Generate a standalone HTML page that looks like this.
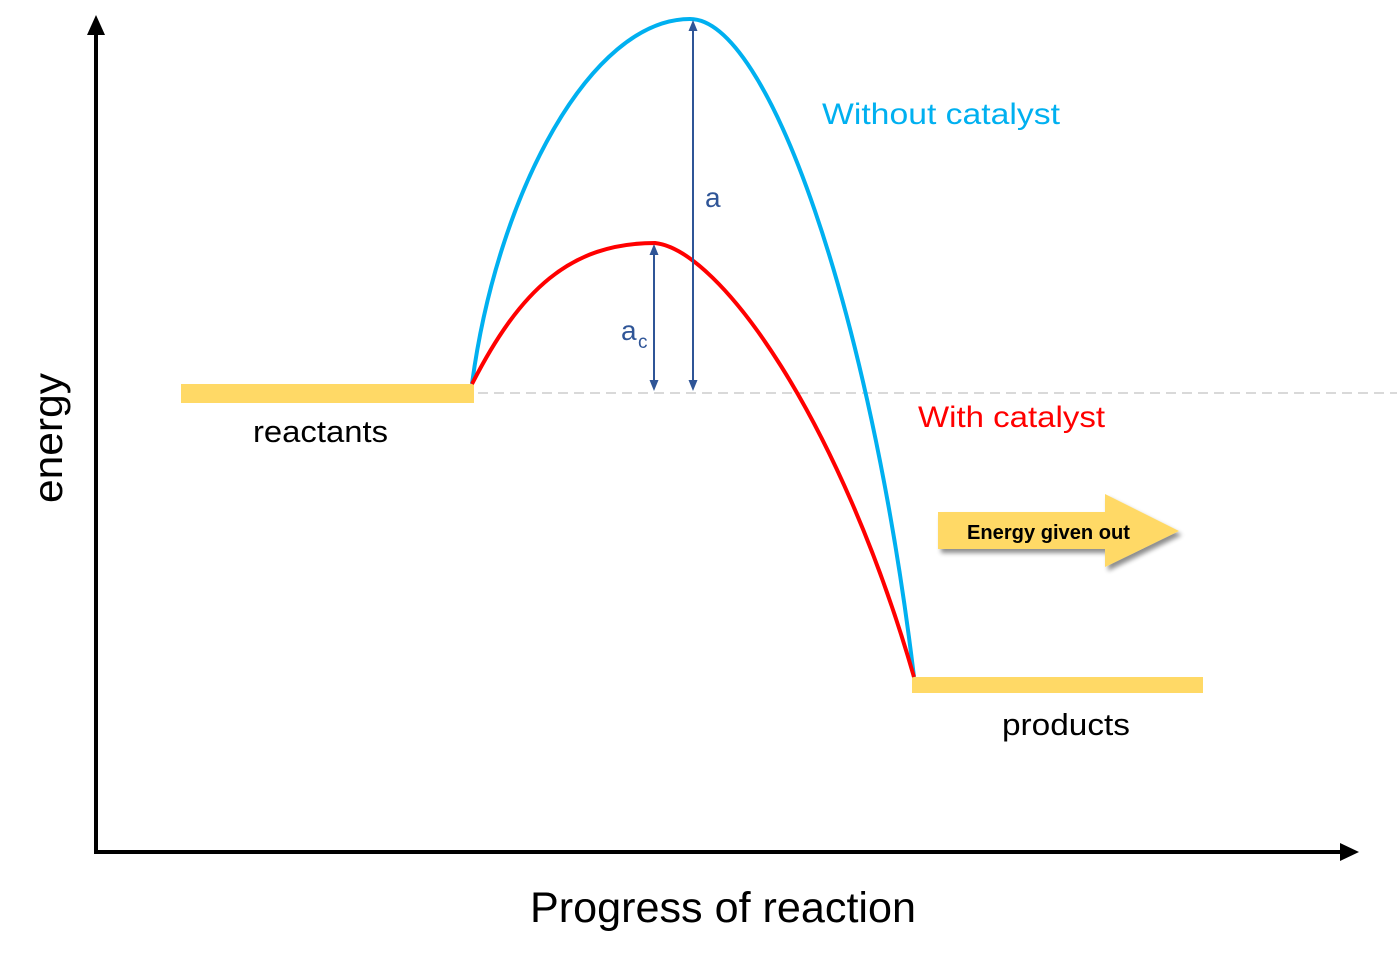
<!DOCTYPE html>
<html>
<head>
<meta charset="utf-8">
<style>
html,body{margin:0;padding:0;background:#fff;}
svg{display:block;}
text{font-family:"Liberation Sans",sans-serif;}
</style>
</head>
<body>
<svg width="1397" height="956" viewBox="0 0 1397 956" xmlns="http://www.w3.org/2000/svg">
<defs>
<filter id="sh" x="-10%" y="-20%" width="130%" height="150%">
<feGaussianBlur in="SourceAlpha" stdDeviation="2.5"/>
<feOffset dx="3" dy="4" result="b"/>
<feComponentTransfer><feFuncA type="linear" slope="0.45"/></feComponentTransfer>
<feMerge><feMergeNode/><feMergeNode in="SourceGraphic"/></feMerge>
</filter>
</defs>
<rect width="1397" height="956" fill="#fff"/>

<!-- axes -->
<line x1="96" y1="32" x2="96" y2="854" stroke="#000" stroke-width="4"/>
<polygon points="96,15 87,35 105,35" fill="#000"/>
<line x1="94" y1="852" x2="1342" y2="852" stroke="#000" stroke-width="4"/>
<polygon points="1359,852 1340,843 1340,861" fill="#000"/>

<!-- dashed reference line -->
<line x1="478" y1="393" x2="1397" y2="393" stroke="#D9D9D9" stroke-width="2" stroke-dasharray="10,6"/>

<!-- bars -->
<rect x="181" y="384" width="293" height="19" fill="#FFD966"/>
<rect x="912" y="677" width="291" height="16" fill="#FFD966"/>

<!-- curves -->
<path d="M472,384 C497,195 590,19 690,19 C768,19 870,310 914,677" fill="none" stroke="#00B0F0" stroke-width="4"/>
<path d="M472,384 C520,290 570,243 655,243 C720,250 840,420 914,677" fill="none" stroke="#FF0000" stroke-width="4"/>

<!-- measure arrows -->
<line x1="693" y1="28" x2="693" y2="382" stroke="#2F5597" stroke-width="2"/>
<polygon points="693,20 688.5,31 697.5,31" fill="#2F5597"/>
<polygon points="693,391 688.5,380 697.5,380" fill="#2F5597"/>
<line x1="654" y1="252" x2="654" y2="382" stroke="#2F5597" stroke-width="2"/>
<polygon points="654,244 649.5,255 658.5,255" fill="#2F5597"/>
<polygon points="654,391 649.5,380 658.5,380" fill="#2F5597"/>

<text x="705" y="207" font-size="28" fill="#2F5597">a</text>
<text x="621" y="340" font-size="28" fill="#2F5597">a</text>
<text x="638" y="348" font-size="19" fill="#2F5597">c</text>

<!-- labels -->
<text x="822" y="124" font-size="30" fill="#00B0F0" textLength="238" lengthAdjust="spacingAndGlyphs">Without catalyst</text>
<text x="918" y="427" font-size="30" fill="#FF0000" textLength="187" lengthAdjust="spacingAndGlyphs">With catalyst</text>
<text x="253" y="442" font-size="31" fill="#000" textLength="135" lengthAdjust="spacingAndGlyphs">reactants</text>
<text x="1002" y="735" font-size="31" fill="#000" textLength="128" lengthAdjust="spacingAndGlyphs">products</text>
<text x="530" y="922" font-size="43" fill="#000" textLength="386" lengthAdjust="spacingAndGlyphs">Progress of reaction</text>
<text transform="translate(62,503) rotate(-90)" x="0" y="0" font-size="41" fill="#000" textLength="130" lengthAdjust="spacingAndGlyphs">energy</text>

<!-- energy given out arrow -->
<polygon points="938,512 1105,512 1105,494 1179,531 1105,567 1105,549 938,549" fill="#FFD966" filter="url(#sh)"/>
<text x="967" y="539" font-size="20" font-weight="bold" fill="#000" textLength="163" lengthAdjust="spacingAndGlyphs">Energy given out</text>
</svg>
</body>
</html>
